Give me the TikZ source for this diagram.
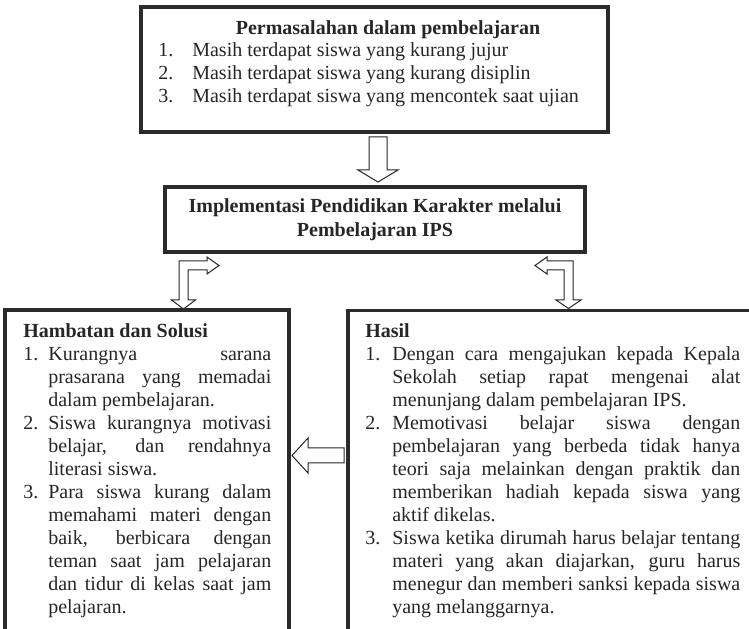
\documentclass[tikz,border=0pt]{standalone}
\usepackage{fontspec}
\setmainfont{Liberation Serif}
\definecolor{inkgray}{HTML}{262626}
\definecolor{framegray}{HTML}{2B2B2B}
\newlength{\numwd}
\newcommand{\numitem}[2]{\par\hangindent=\numwd\hangafter=1\noindent\makebox[\numwd][l]{#1.}#2}
\tikzset{
    txt/.style={font=\fontsize{12}{13.8}\selectfont, inner sep=0pt, text=inkgray},
    heavybox/.style={draw=framegray, line width=2.4pt, inner sep=0pt},
    lightbox/.style={draw=framegray, line width=2pt, inner sep=0pt},
    blockarrow/.style={draw=inkgray, line width=0.6pt, fill=white, line join=miter},
    parbox/.style={txt, align=justify, anchor=north west,
        execute at begin node={\parindent=0pt\tolerance=10000\hbadness=10000\hyphenpenalty=10000\exhyphenpenalty=10000}}
}
\begin{document}
\begin{tikzpicture}[x=0.6pt, y=-0.6pt]
            \useasboundingbox (0,0) rectangle (749,629);
            \clip (0,0) rectangle (749,629);

            \node[heavybox, minimum width=280.2pt, minimum height=75pt] (prob) at (374.5, 69.5) {};
            \node[heavybox, minimum width=252pt, minimum height=39pt] (impl) at (375, 219.5) {};
            \node[lightbox, minimum width=170.4pt, minimum height=222pt] (hamb) at (147, 495) {};
            \node[lightbox, minimum width=253.2pt, minimum height=222pt] (hasil) at (559, 495.5) {};

            \node[txt, anchor=base] (probtitle) at (388, 35) {\textbf{Permasalahan dalam pembelajaran}};
            \foreach \i/\txt in {1/kurang jujur, 2/kurang disiplin, 3/mencontek saat ujian}{
                \node[txt, anchor=base west] (pnum\i) at (158, {34+23*\i}) {\i.};
                \node[txt, anchor=base west] (pitem\i) at (192, {34+23*\i}) {Masih terdapat siswa yang \txt};
            }

            \node[txt, anchor=base] (impl1) at (375, 213) {\textbf{Implementasi Pendidikan Karakter melalui}};
            \node[txt, anchor=base] (impl2) at (375, 237) {\textbf{Pembelajaran IPS}};

            \node[parbox, text width=148.8pt] (hambtext) at (23, 321) {%
                \setlength{\numwd}{15pt}\strut\textbf{Hambatan dan Solusi}
                \numitem{1}{Kurangnya sarana\linebreak prasarana yang memadai\linebreak dalam pembelajaran.}
                \numitem{2}{Siswa kurangnya motivasi\linebreak belajar, dan rendahnya\linebreak literasi siswa.}
                \numitem{3}{Para siswa kurang dalam\linebreak memahami materi dengan\linebreak baik, berbicara dengan\linebreak teman saat jam pelajaran\linebreak dan tidur di kelas saat jam\linebreak pelajaran.}\par};

            \node[parbox, text width=225pt] (hasiltext) at (365, 321.5) {%
                \setlength{\numwd}{16.2pt}\strut\textbf{Hasil}
                \numitem{1}{Dengan cara mengajukan kepada Kepala\linebreak Sekolah setiap rapat mengenai alat\linebreak menunjang dalam pembelajaran IPS.}
                \numitem{2}{Memotivasi belajar siswa dengan\linebreak pembelajaran yang berbeda tidak hanya\linebreak teori saja melainkan dengan praktik dan\linebreak memberikan hadiah kepada siswa yang\linebreak aktif dikelas.}
                \numitem{3}{Siswa ketika dirumah harus belajar tentang\linebreak materi yang akan diajarkan, guru harus\linebreak menegur dan memberi sanksi kepada siswa\linebreak yang melanggarnya.}\par};

            % block arrows
            \draw[blockarrow] (369,137) -- (387,137) -- (387,170) -- (398,170) -- (378,182)
                -- (358,170) -- (369,170) -- cycle;
            \draw[blockarrow] (179,261) -- (207,261) -- (207,257) -- (219,265.5) -- (207,274)
                -- (207,270) -- (188,270) -- (188,300) -- (195.5,300) -- (183.5,309)
                -- (171.5,300) -- (179,300) -- cycle;
            \draw[blockarrow] (573,261) -- (547,261) -- (547,257) -- (535,265.5) -- (547,274)
                -- (547,270) -- (564,270) -- (564,300) -- (556,300) -- (568.5,308.5)
                -- (581,300) -- (573,300) -- cycle;
            \draw[blockarrow] (344,448) -- (308,448) -- (308,438) -- (292,455.5) -- (308,473)
                -- (308,463) -- (344,463) -- cycle;
        \end{tikzpicture}
\end{document}
